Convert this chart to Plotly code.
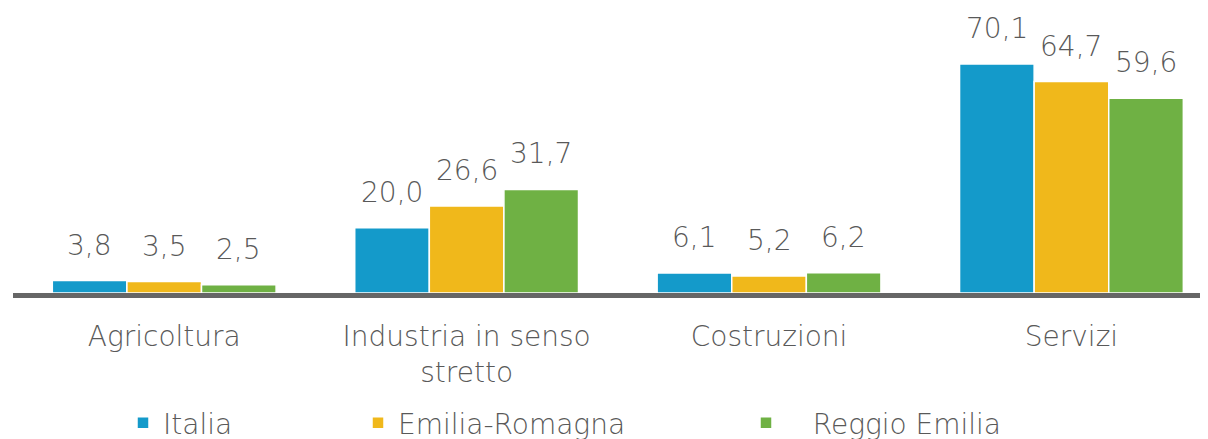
import plotly.graph_objects as go

categories = ["Agricoltura", "Industria in senso<br>stretto", "Costruzioni", "Servizi"]
series_names = ["Italia", "Emilia-Romagna", "Reggio Emilia"]
italia = [3.8, 20.0, 6.1, 70.1]
emilia_romagna = [3.5, 26.6, 5.2, 64.7]
reggio_emilia = [2.5, 31.7, 6.2, 59.6]
colors = ["#149ACA", "#F0B81B", "#6FB144"]

FONT = "DejaVu Sans"
GRAY = "#595959"

fig = go.Figure()
values = [italia, emilia_romagna, reggio_emilia]
legends = ["legend", "legend2", "legend3"]
for name, vals, col, lg in zip(series_names, values, colors, legends):
    fig.add_trace(go.Bar(
        x=categories, y=vals, name=name, legend=lg,
        marker=dict(color=col, line=dict(color="white", width=1.5)),
        hoverinfo="x+y",
    ))

# data labels as annotations
offsets = [-74.5, 0, 74.5]
for vals, dx in zip(values, offsets):
    for c, v in zip(categories, vals):
        fig.add_annotation(
            x=c, y=v, xref="x", yref="y", xshift=dx, yshift=17,
            text=f"{v:.1f}".replace(".", ","), showarrow=False,
            yanchor="bottom", font=dict(family=FONT, size=28, color=GRAY, weight=200),
        )

leg_common = dict(orientation="h", yref="container", xref="container", yanchor="middle",
                  xanchor="left", font=dict(family=FONT, size=28, color=GRAY, weight=200),
                  bgcolor="rgba(0,0,0,0)", itemwidth=30)
LY = 1 - 415 / 439
fig.update_layout(
    width=1208, height=439,
    margin=dict(l=5, r=0, t=0, b=154),
    paper_bgcolor="white", plot_bgcolor="white",
    barmode="group", bargap=0.26, bargroupgap=0.0,
    separators=",.",
    showlegend=True,
    legend=dict(x=115 / 1208, y=LY, **leg_common),
    legend2=dict(x=350 / 1208, y=LY, **leg_common),
    legend3=dict(x=738 / 1208, y=LY, **leg_common),
    xaxis=dict(
        range=[-0.5, 3.478], showgrid=False, showline=True, linecolor="#666666",
        linewidth=5, ticks="", tickfont=dict(family=FONT, size=28, color=GRAY, weight=200),
        ticklabelstandoff=14,
    ),
    yaxis=dict(range=[0, 87.2], visible=False, showgrid=False, zeroline=False),
)
fig.data[2].name = "\u00a0\u00a0\u00a0Reggio Emilia"

fig.write_html("out.html")
